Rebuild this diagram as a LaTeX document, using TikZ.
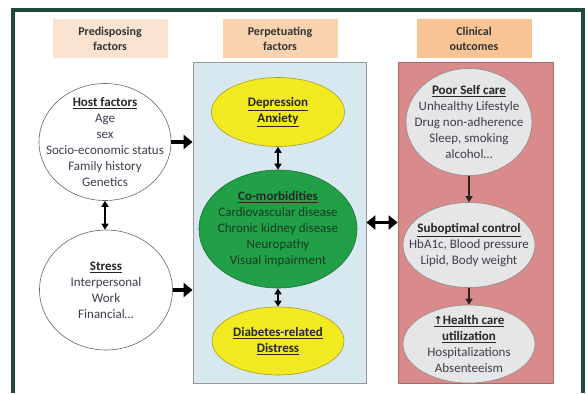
\documentclass[tikz,border=0pt]{standalone}
\usepackage{fontspec}
\setmainfont{Carlito}
\newfontfamily\symfont{DejaVu Sans}
\usetikzlibrary{shapes.geometric,arrows.meta}
\definecolor{framec}{HTML}{1E4A40}
\definecolor{hdrA}{HTML}{FBE3D2}
\definecolor{hdrB}{HTML}{F9D2B0}
\definecolor{hdrC}{HTML}{F8C494}
\definecolor{bluebox}{HTML}{D8E8F0}
\definecolor{redbox}{HTML}{D98A8A}
\definecolor{redline}{HTML}{A86A6A}
\definecolor{greyell}{HTML}{E6E6E6}
\definecolor{yell}{HTML}{F2EA20}
\definecolor{yellline}{HTML}{A89A30}
\definecolor{greenell}{HTML}{22A048}
\definecolor{greenline}{HTML}{1A7034}
\definecolor{txt}{HTML}{3E3E4E}
\definecolor{gtxt}{HTML}{163A1E}
\tikzset{
  hdr/.style={fill=#1, minimum width=115pt, minimum height=39pt, inner sep=0pt,
    align=center, font=\bfseries\fontsize{12}{15}\selectfont, text=black!80},
  panel/.style={draw=#1, line width=0.8pt, inner sep=0pt},
  ell/.style={ellipse, inner sep=0pt, line width=0.6pt},
  whiteell/.style={ell, draw=black!60, fill=white},
  yellell/.style={ell, draw=yellline, fill=yell},
  grnell/.style={ell, draw=greenline, fill=greenell},
  gryell/.style={ell, draw=black!45, fill=greyell},
  etext/.style={inner sep=0pt, align=center, text=txt, font=\fontsize{13}{16}\selectfont},
  bigarrow/.style={line width=3.5pt, -{Triangle[length=9pt,width=14pt]}},
  bigdbl/.style={line width=3.5pt, {Triangle[length=9pt,width=14pt]}-{Triangle[length=9pt,width=14pt]}},
  dbl/.style={line width=1.8pt, {Triangle[length=6pt,width=7pt]}-{Triangle[length=6pt,width=7pt]}},
  sarrow/.style={line width=1.8pt, draw=black!85, -{Triangle[length=6pt,width=7pt]}}
}
\newcommand{\ttl}[1]{\textbf{\textcolor{black!85}{\underline{#1}}}}
\begin{document}
\begin{tikzpicture}[x=1pt,y=-1pt]
\useasboundingbox (0,0) rectangle (588,393);
\fill[white] (0,0) rectangle (588,393);
\draw[framec, line width=3.5pt] (13,393) -- (13,10) -- (583,10) -- (583,393);

\node[hdr=hdrA] (h1) at (110,39) {Predisposing\\factors};
\node[hdr=hdrB] (h2) at (280,39) {Perpetuating\\factors};
\node[hdr=hdrC] (h3) at (474,39) {Clinical\\outcomes};

\node[panel=black!40, fill=bluebox, minimum width=173pt, minimum height=321pt] (pbox) at (279.5,222.5) {};
\node[panel=redline, fill=redbox, minimum width=155pt, minimum height=321pt] (rbox) at (475.5,222.5) {};

% left column
\node[whiteell, minimum width=132pt, minimum height=117pt] (host) at (105,142) {};
\node[etext] (hostT) at (host) {\ttl{Host factors}\\Age\\sex\\Socio-economic status\\Family history\\Genetics};
\node[whiteell, minimum width=133pt, minimum height=120pt] (stress) at (106,290) {};
\node[etext] (stressT) at (stress) {\ttl{Stress}\\Interpersonal\\Work\\Financial…};

% middle column
\node[yellell, minimum width=133pt, minimum height=69pt] (dep) at (278,112) {};
\node[etext] (depT) at (dep) {\ttl{Depression}\\\ttl{Anxiety}};
\node[grnell, minimum width=158pt, minimum height=118pt] (comor) at (278,229) {};
\node[etext, text=gtxt] (comorT) at (comor) {\ttl{Co-morbidities}\\Cardiovascular disease\\Chronic kidney disease\\Neuropathy\\Visual impairment};
\node[yellell, minimum width=132pt, minimum height=68pt] (dist) at (278,341) {};
\node[etext] (distT) at (dist) {\ttl{Diabetes-related}\\\ttl{Distress}};

% right column
\node[gryell, minimum width=126pt, minimum height=107pt] (poor) at (469,122) {};
\node[etext] (poorT) at (poor) {\ttl{Poor Self care}\\Unhealthy Lifestyle\\Drug non-adherence\\Sleep, smoking\\alcohol…};
\node[gryell, minimum width=132pt, minimum height=85pt] (sub) at (469,245) {};
\node[etext] (subT) at (sub) {\ttl{Suboptimal control}\\HbA1c, Blood pressure\\Lipid, Body weight};
\node[gryell, minimum width=132pt, minimum height=78pt] (hcu) at (469,344) {};
\node[etext] (hcuT) at (hcu) {\textbf{\textcolor{black!85}{\underline{{\symfont\fontsize{11}{12}\selectfont ↑}Health care}}}\\\ttl{utilization}\\Hospitalizations\\Absenteeism};

\draw[bigarrow] (host.east) -- (pbox.west |- host.east);
\draw[bigarrow] (stress.east) -- (pbox.west |- stress.east);
\draw[dbl] (host.south) -- (host.south |- stress.north);
\draw[dbl] (dep.south) -- (comor.north);
\draw[dbl] (comor.south) -- (dist.north);
\draw[bigdbl] (pbox.east) -- (rbox.west);
\draw[sarrow] (poor.south) -- (sub.north);
\draw[sarrow] (sub.south) -- (hcu.north);
\end{tikzpicture}
\end{document}
